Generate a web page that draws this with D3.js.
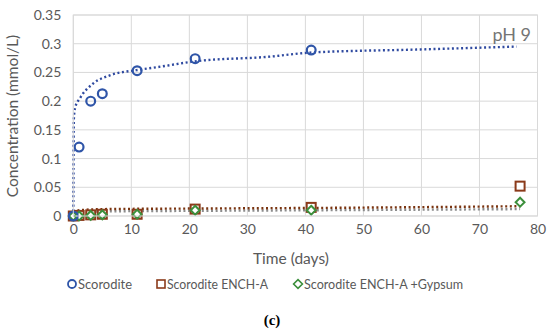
<!DOCTYPE html>
<html><head><meta charset="utf-8">
<script src="https://cdn.jsdelivr.net/npm/d3@7"></script>
<style>body{margin:0;background:#fff;} text{font-family:Lato,"Open Sans",sans-serif;}</style>
</head><body><svg id="c" width="550" height="336"></svg>
<script>
const days = [0, 1, 3, 5, 11, 21, 41, 77];
const scorodite = [0, 0.12, 0.2, 0.213, 0.253, 0.274, 0.289, null];
const ench = [0, 0.001, 0.002, 0.003, 0.003, 0.012, 0.015, 0.052];
const gypsum = [0, 0, 0.001, 0.002, 0.003, 0.010, 0.010, 0.024];
const trendScoX = [0, 0.1, 0.3, 1.15, 3.45, 6.3, 10.9, 15, 20.7, 33.9, 40.8, 59.8, 76.4];
const trendScoY = [0, 0.17, 0.188, 0.205, 0.231, 0.245, 0.254, 0.26, 0.269, 0.2775, 0.2845, 0.29, 0.295];
const trendEnchX = [0, 1, 5, 21, 41, 77];
const trendEnchY = [0.006, 0.010, 0.012, 0.013, 0.014, 0.017];
const trendGypX = [0, 1, 5, 21, 41, 77];
const trendGypY = [0.004, 0.007, 0.008, 0.009, 0.010, 0.012];
const xTicks = [0, 10, 20, 30, 40, 50, 60, 70, 80];
const yTicks = [0, 0.05, 0.1, 0.15, 0.2, 0.25, 0.3, 0.35];
const legendLabels = ["Scorodite", "Scorodite ENCH-A", "Scorodite ENCH-A +Gypsum"];

const svg = d3.select("#c");
const x = d3.scaleLinear().domain([0, 80]).range([73.3, 537.5]);
const y = d3.scaleLinear().domain([0, 0.35]).range([216, 15]);
const grid = "#d9d9d9", txt = "#595959";

svg.append("g").selectAll("line").data(yTicks).join("line")
  .attr("x1", x(0)).attr("x2", x(80)).attr("y1", d => y(d)).attr("y2", d => y(d))
  .attr("stroke", grid).attr("stroke-width", 1);
svg.append("g").selectAll("line").data(xTicks).join("line")
  .attr("y1", y(0)).attr("y2", y(0.35)).attr("x1", d => x(d)).attr("x2", d => x(d))
  .attr("stroke", grid).attr("stroke-width", 1);

const yAxis = svg.append("g").attr("transform", `translate(${x(0)},0)`)
  .call(d3.axisLeft(y).tickValues(yTicks).tickSize(0).tickPadding(12).tickFormat(d => String(+d.toFixed(2))));
yAxis.select(".domain").remove();
yAxis.selectAll("text").attr("fill", txt).style("font-size", "14px").style("font-family", "Lato");
const xAxis = svg.append("g").attr("transform", `translate(0,${y(0)})`)
  .call(d3.axisBottom(x).tickValues(xTicks).tickSize(0).tickPadding(8));
xAxis.select(".domain").remove();
xAxis.selectAll("text").attr("fill", txt).style("font-size", "14px").style("font-family", "Lato");

svg.append("text").attr("x", 291).attr("y", 264).attr("text-anchor", "middle")
  .attr("fill", txt).style("font-size", "15.5px").text("Time (days)");
svg.append("text").attr("transform", "translate(18,116) rotate(-90)").attr("text-anchor", "middle")
  .attr("fill", txt).style("font-size", "15.5px").text("Concentration (mmol/L)");
svg.append("text").attr("x", 531).attr("y", 41).attr("text-anchor", "end")
  .attr("fill", "#757575").style("font-size", "18px").text("pH 9");

const line = d3.line().x(d => x(d[0])).y(d => y(d[1])).curve(d3.curveMonotoneX);
function trend(xs, ys, color) {
  svg.append("path").datum(xs.map((v, i) => [v, ys[i]])).attr("d", line)
    .attr("fill", "none").attr("stroke", color).attr("stroke-width", 2.4)
    .attr("stroke-dasharray", "2 2.6").attr("stroke-linecap", "butt");
}
trend(trendGypX, trendGypY, "#8c8c8c");
trend(trendEnchX, trendEnchY, "#7a3410");
trend(trendScoX, trendScoY, "#2f4aa0");

const blue = "#2f55a8", brown = "#8b3a1a", green = "#3c8f3c";
function pts(vals) { return days.map((d, i) => [d, vals[i]]).filter(p => p[1] !== null); }
svg.append("g").selectAll("rect").data(pts(ench)).join("rect")
  .attr("x", d => x(d[0]) - 4.5).attr("y", d => y(d[1]) - 4.5).attr("width", 9).attr("height", 9)
  .attr("fill", "#fff").attr("stroke", brown).attr("stroke-width", 2);
const dia = d3.symbol().type(d3.symbolDiamond2).size(50);
svg.append("g").selectAll("path").data(pts(gypsum)).join("path")
  .attr("transform", d => `translate(${x(d[0])},${y(d[1])})`).attr("d", dia)
  .attr("fill", "#fff").attr("stroke", green).attr("stroke-width", 2);
svg.append("g").selectAll("circle").data(pts(scorodite)).join("circle")
  .attr("cx", d => x(d[0])).attr("cy", d => y(d[1])).attr("r", 4.4)
  .attr("fill", "none").attr("stroke", blue).attr("stroke-width", 2.2);

svg.append("rect").attr("x", x(0)).attr("y", y(0.35)).attr("width", x(80) - x(0)).attr("height", y(0) - y(0.35))
  .attr("fill", "none").attr("stroke", grid);

const lg = svg.append("g");
const lx = [72, 161, 298];
const lw = [54, 101, 159];
const ly = 284;
lg.append("circle").attr("cx", lx[0]).attr("cy", ly).attr("r", 4).attr("fill", "none").attr("stroke", blue).attr("stroke-width", 1.8);
lg.append("rect").attr("x", lx[1] - 4).attr("y", ly - 4).attr("width", 8).attr("height", 8).attr("fill", "none").attr("stroke", brown).attr("stroke-width", 1.6);
lg.append("path").attr("transform", `translate(${lx[2]},${ly})`).attr("d", dia).attr("fill", "none").attr("stroke", green).attr("stroke-width", 1.6);
lg.selectAll("text").data(legendLabels).join("text")
  .attr("x", (d, i) => lx[i] + 6).attr("y", ly + 5).attr("fill", txt).style("font-size", "14px")
  .attr("textLength", (d, i) => lw[i]).attr("lengthAdjust", "spacingAndGlyphs").text(d => d);

svg.append("text").attr("x", 272).attr("y", 325).attr("text-anchor", "middle")
  .style("font-family", "'Liberation Serif','DejaVu Serif',serif").style("font-weight", "bold").style("font-size", "15px").text("(c)");
</script></body></html>
